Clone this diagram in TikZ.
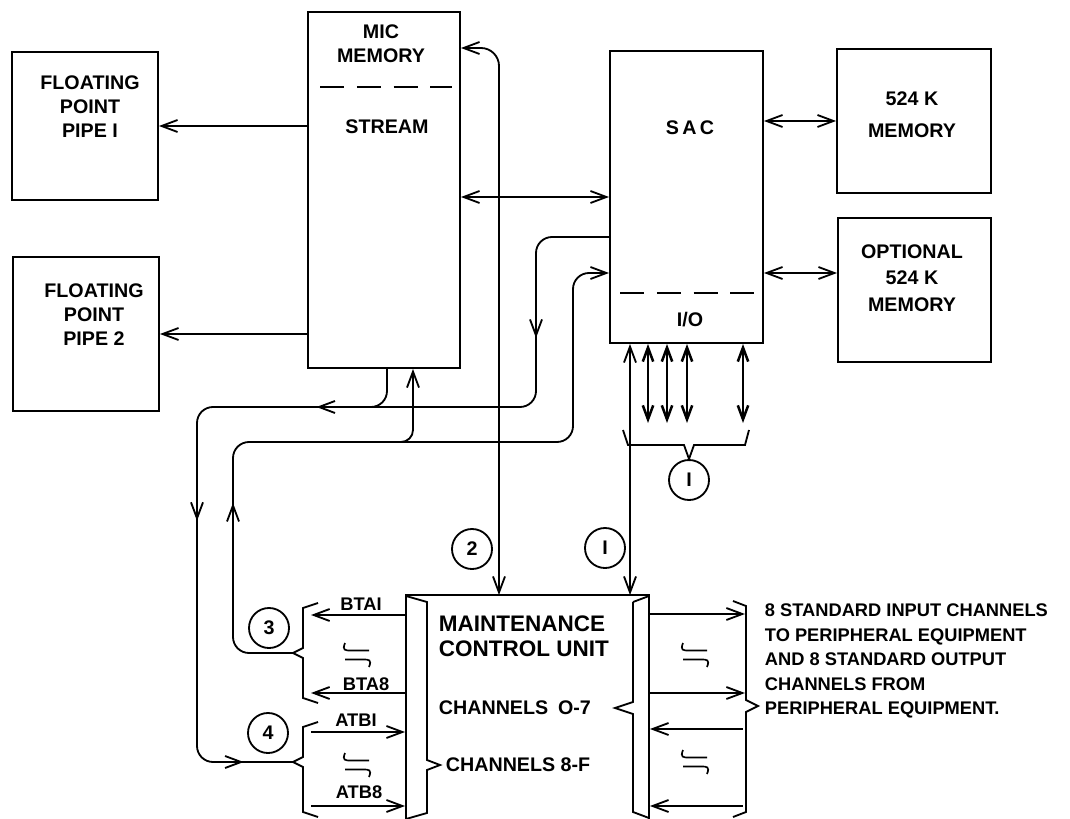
\documentclass[tikz,border=0pt]{standalone}
\usepackage{fontspec}
\setmainfont{Liberation Sans}
\usetikzlibrary{arrows.meta,decorations.markings}

\begin{document}
\begin{tikzpicture}[
    x=0.025cm, y=-0.025cm,
    line width=1.3pt,
    >={Straight Barb[length=4mm,width=3mm]},
    box/.style={rectangle, draw, inner sep=0pt},
    txt/.style={align=center, font=\fontsize{14}{17}\selectfont\bfseries},
    lefttxt/.style={anchor=west, align=left, inner sep=0pt},
    small/.style={inner sep=0pt, font=\fontsize{13}{15}\selectfont\bfseries},
    num/.style={circle, draw, minimum size=1cm, inner sep=0pt, font=\fontsize{14}{16}\selectfont\bfseries},
    arrow/.style={->},
    biarrow/.style={<->},
    busarrow/.style={{Straight Barb[length=3.5mm,width=2.6mm,line width=1.8pt]}-{Straight Barb[length=3.5mm,width=2.6mm,line width=1.8pt]}},
    dashline/.style={dash pattern=on 0.6cm off 0.32cm},
    wavy/.pic={
        \draw[line width=1.2pt] (-12,-12) .. controls (-15,-4.5) and (-12,-4.5) .. (-6,-4.5) -- (12,-4.5);
        \draw[line width=1.2pt] (-12,4.5) -- (6,4.5) .. controls (12,4.5) and (15,4.5) .. (12,12);
    }
]
\useasboundingbox (0,0) rectangle (1070,819);

% --- blocos principais ---
\node[box, minimum width=3.65cm, minimum height=3.7cm] (fp1) at (85,126) {};
\node[box, minimum width=3.65cm, minimum height=3.85cm] (fp2) at (86,334) {};
\node[box, minimum width=3.8cm, minimum height=8.9cm] (stream) at (384,190) {};
\node[box, minimum width=3.825cm, minimum height=7.3cm] (sac) at (686.5,197) {};
\node[box, minimum width=3.85cm, minimum height=3.6cm] (mem1) at (914,121) {};
\node[box, minimum width=3.825cm, minimum height=3.6cm] (mem2) at (914.5,290) {};
\node[inner sep=0pt, minimum width=6.075cm, minimum height=5.575cm] (mcu) at (527.5,707.5) {};

% --- textos dos blocos ---
\node[txt] (fp1txt) at (90,107) {FLOATING\\POINT\\PIPE I};
\node[txt] (fp2txt) at (94,315) {FLOATING\\POINT\\PIPE 2};
\node[txt] (mictxt) at (381,44) {MIC\\MEMORY};
\node[txt] (streamtxt) at (387,127) {STREAM};
\node[txt] (sactxt) at (690,128) {S\,A\,C};
\node[txt] (iotxt) at (690,320) {I/O};
\node[txt] (mem1txt) at (912,115) {524 K\\[6pt]MEMORY};
\node[txt, font=\fontsize{14}{19}\selectfont\bfseries] (mem2txt) at (912,278) {OPTIONAL\\524 K\\MEMORY};
\draw[dashline] (320,87) -- (452,87);
\draw[dashline] (620,293) -- (755,293);

% --- ligacoes superiores ---
\draw[arrow] (stream.west |- fp1.east) -- (fp1.east);
\draw[arrow] (stream.west |- fp2.east) -- (fp2.east);
\draw[biarrow] (stream.east |- sac.west) -- (sac.west);
\draw[biarrow] (sac.east |- mem1.west) -- (mem1.west);
\draw[biarrow] (sac.east |- 0,273) -- (mem2.west |- 0,273);

% --- barramentos da MCU ---
\draw[biarrow, rounded corners=0.45cm] (stream.east |- 0,48) -| (mcu.north -| 499,0);
\draw[biarrow] (sac.south -| 630,0) -- (mcu.north -| 630,0);
\foreach \x in {648,667,687,743}
    \draw[busarrow] (sac.south -| \x,0) -- (\x,423);
\draw (623,430) -- (628,445) -- (684,445) -- (689,459) -- (694,445) -- (745,445) -- (749,430);

% --- lacos 3 e 4 ---
\coordinate (b3) at (293,653);
\coordinate (b4) at (293,762);
\draw[rounded corners=0.4cm, postaction={decorate}, decoration={markings,
        mark=at position 4.18cm with {\arrow{>}},
        mark=at position 11.22cm with {\arrow{>}},
        mark=at position 16.88cm with {\arrow{>}},
        mark=at position 23.9cm with {\arrow{>}}}]
    (sac.west |- 0,237) -| (536,407) -| (197,762) -- (b4);
\draw[rounded corners=0.4cm] (stream.south -| 387,0) |- (355,407);
\draw[arrow, rounded corners=0.4cm, postaction={decorate}, decoration={markings,
        mark=at position 5.08cm with {\arrow{>}}}]
    (b3) -| (233,442) -| (573,273) -- (sac.west |- 0,273);
\draw[arrow, rounded corners=0.3cm] (385,442) -| (stream.south -| 413,0);

% --- unidade de manutencao ---
\draw (mcu.north west) -- (mcu.north east);
\draw (406,819) -- (406,596) -- (427,602) -- (427,760) -- (440,765) -- (427,770) -- (427,813) -- (406,819);
\draw (633,602) -- (649,596) -- (649,819);
\draw (633,602) -- (633,702) -- (615,708) -- (633,714) -- (633,812) -- (649,818);
\node[lefttxt, font=\fontsize{16}{18}\selectfont\bfseries] (mcutxt) at (438,636) {MAINTENANCE\\CONTROL UNIT};
\node[lefttxt, font=\fontsize{14}{16}\selectfont\bfseries] (ch07) at (438,708) {CHANNELS\hspace{0.5em}O-7};
\node[lefttxt, font=\fontsize{14}{16}\selectfont\bfseries] (ch8f) at (445,765) {CHANNELS 8-F};

% --- canais do lado esquerdo ---
\draw[arrow] (mcu.west |- 0,615) -- ++(-94,0);
\draw[arrow] (mcu.west |- 0,693) -- ++(-94,0);
\draw[<-] (mcu.west |- 0,732) -- ++(-94,0);
\draw[<-] (mcu.west |- 0,806) -- ++(-94,0);
\node[small] (bta1) at (361,604) {BTAI};
\node[small] (bta8) at (366,684) {BTA8};
\node[small] (atb1) at (356,720) {ATBI};
\node[small] (atb8) at (359,792) {ATB8};
\pic at (357,655) {wavy};
\pic at (357,765) {wavy};
\draw (318,603) -- (303,608) -- (303,648) -- (b3) -- (303,658) -- (303,698) -- (318,703);
\draw (318,722) -- (303,727) -- (303,757) -- (b4) -- (303,767) -- (303,812) -- (318,817);

% --- canais do lado direito ---
\draw[arrow] (mcu.east |- 0,614) -- ++(95,0);
\draw[arrow] (mcu.east |- 0,693) -- ++(95,0);
\draw[<-] (mcu.east |- 0,729) -- ++(93,0);
\draw[<-] (mcu.east |- 0,806) -- ++(93,0);
\pic at (695,655) {wavy};
\pic at (695,762) {wavy};
\draw (733,601) -- (746,606) -- (746,700) -- (758,706) -- (746,712) -- (746,812) -- (733,817);
\node[lefttxt, font=\fontsize{13}{17.4}\selectfont\bfseries] (rtxt) at (764,661)
    {8 STANDARD INPUT CHANNELS\\TO PERIPHERAL EQUIPMENT\\AND 8 STANDARD OUTPUT\\CHANNELS FROM\\PERIPHERAL EQUIPMENT.};

% --- numeros ---
\node[num] (n3) at (269,628) {3};
\node[num] (n4) at (268,733) {4};
\node[num] (n2) at (472,549) {2};
\node[num] (n1) at (605,548) {I};
\node[num] (n1b) at (689,480) {I};
\end{tikzpicture}
\end{document}
